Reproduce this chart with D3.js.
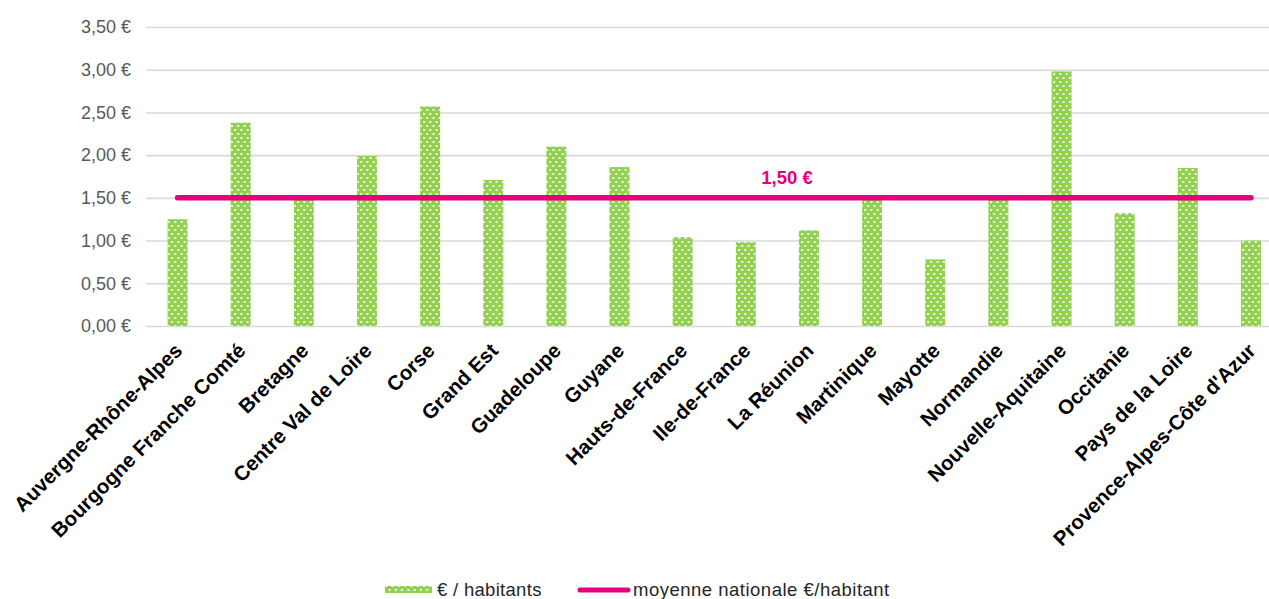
<!DOCTYPE html>
<html lang="fr">
<head>
<meta charset="utf-8">
<script src="https://cdn.jsdelivr.net/npm/d3@7"></script>
<style>
  html, body { margin: 0; padding: 0; background: #fff; overflow: hidden; }
  svg { display: block; font-family: "Liberation Sans", Arial, sans-serif; }
</style>
</head>
<body>
<svg id="chart" width="1269" height="599"></svg>
<script>
// Régions
const regions = [
  "Auvergne-Rhône-Alpes", "Bourgogne Franche Comté", "Bretagne", "Centre Val de Loire",
  "Corse", "Grand Est", "Guadeloupe", "Guyane", "Hauts-de-France", "Ile-de-France",
  "La Réunion", "Martinique", "Mayotte", "Normandie", "Nouvelle-Aquitaine",
  "Occitanie", "Pays de la Loire", "Provence-Alpes-Côte d'Azur"
];
// Montant par habitant (€)
const parHabitant = [
  1.25, 2.38, 1.49, 1.99, 2.57, 1.71, 2.10, 1.86, 1.04,
  0.98, 1.12, 1.50, 0.78, 1.49, 2.98, 1.32, 1.85, 1.00
];
// Moyenne nationale (€ / habitant)
const moyenneNationale = regions.map(() => 1.50);
const yTicks = [0, 0.5, 1, 1.5, 2, 2.5, 3, 3.5];
const legendLabels = ["€ / habitants", "moyenne nationale €/habitant"];
const labelRegion = "La Réunion";

const GREEN = "#92D050";
const PINK = "#E6007E";

const svg = d3.select("#chart");

const x = d3.scaleBand().domain(regions).range([146, 1282.5]);
const y = d3.scaleLinear().domain([0, 3.5]).range([326, 27]);

const fr = d3.formatLocale({ decimal: ",", thousands: " ", grouping: [3], currency: ["", " €"] });
const fmt = v => fr.format(".2f")(v) + " €";

// Motif pointillé des barres
const defs = svg.append("defs");
const pat = defs.append("pattern")
  .attr("id", "dots").attr("patternUnits", "userSpaceOnUse")
  .attr("width", 6.3).attr("height", 8);
pat.append("rect").attr("width", 6.3).attr("height", 8).attr("fill", GREEN);
pat.append("rect").attr("x", 1).attr("y", 1).attr("width", 2).attr("height", 2).attr("fill", "#fff").attr("opacity", 0.9);
pat.append("rect").attr("x", 4.15).attr("y", 5).attr("width", 2).attr("height", 2).attr("fill", "#fff").attr("opacity", 0.9);

// Axe Y avec quadrillage
const yAxis = svg.append("g")
  .attr("transform", "translate(146,0)")
  .call(d3.axisLeft(y).tickValues(yTicks).tickFormat(fmt).tickSize(-1140).tickPadding(15));
yAxis.select(".domain").remove();
yAxis.selectAll(".tick line").attr("stroke", "#D9D9D9").attr("stroke-width", 1.6);
yAxis.selectAll(".tick text")
  .attr("fill", "#595959").attr("font-size", 18)
  .attr("font-family", "'Liberation Sans', Arial, sans-serif");

// Barres
const bw = 20;
svg.append("g").selectAll("rect")
  .data(regions.map((r, i) => ({ r, v: parHabitant[i] })))
  .join("rect")
  .attr("x", d => x(d.r) + x.bandwidth() / 2 - bw / 2)
  .attr("y", d => y(d.v))
  .attr("width", bw)
  .attr("height", d => y(0) - y(d.v))
  .attr("fill", "url(#dots)");

// Ligne de la moyenne nationale
const line = d3.line()
  .x((d, i) => x(regions[i]) + x.bandwidth() / 2)
  .y(d => y(d));
svg.append("path")
  .datum(moyenneNationale)
  .attr("d", line)
  .attr("fill", "none")
  .attr("stroke", PINK)
  .attr("stroke-width", 5.5)
  .attr("stroke-linecap", "round");

// Étiquette de valeur
const li = regions.indexOf(labelRegion);
svg.append("text")
  .attr("x", x(labelRegion) + x.bandwidth() / 2 - 22)
  .attr("y", y(moyenneNationale[li]) - 14)
  .attr("text-anchor", "middle")
  .attr("fill", PINK)
  .attr("font-size", 18.5)
  .attr("font-weight", "bold")
  .text(fmt(moyenneNationale[li]));

// Étiquettes des régions
svg.append("g").selectAll("text")
  .data(regions)
  .join("text")
  .attr("transform", d => `translate(${x(d) + x.bandwidth() / 2 + 6},${352}) rotate(-45)`)
  .attr("text-anchor", "end")
  .attr("font-size", 20.5)
  .attr("font-weight", "bold")
  .attr("fill", "#000")
  .text(d => d);

// Légende
const lg = svg.append("g");
lg.append("rect").attr("x", 385).attr("y", 586).attr("width", 47).attr("height", 7).attr("fill", "url(#dots)");
lg.append("text").attr("x", 437).attr("y", 596).attr("font-size", 18.5).attr("letter-spacing", 0.3)
  .attr("fill", "#262626").text(legendLabels[0]);
lg.append("line").attr("x1", 580).attr("x2", 628).attr("y1", 590).attr("y2", 590)
  .attr("stroke", PINK).attr("stroke-width", 5).attr("stroke-linecap", "round");
lg.append("text").attr("x", 633).attr("y", 596).attr("font-size", 18.5).attr("letter-spacing", 0.5)
  .attr("fill", "#262626").text(legendLabels[1]);
</script>
</body>
</html>
